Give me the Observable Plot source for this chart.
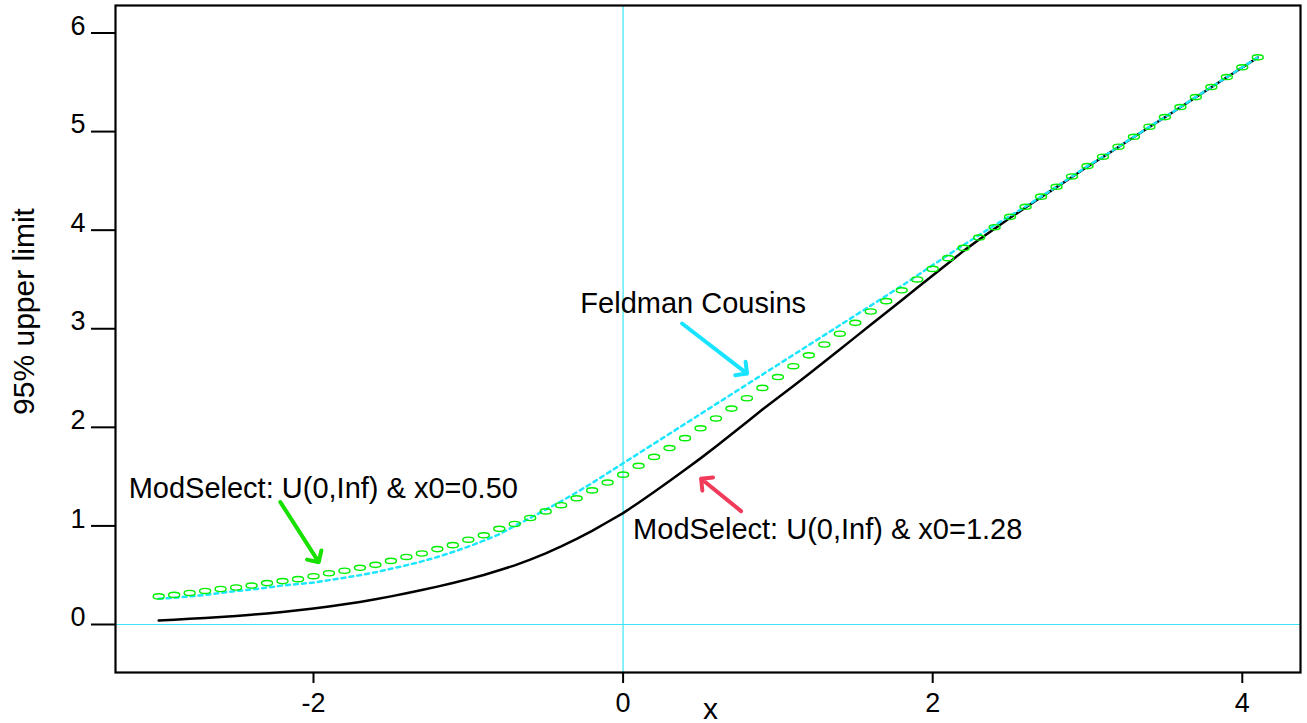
<!DOCTYPE html>
<html><head><meta charset="utf-8">
<script src="https://cdn.jsdelivr.net/npm/d3@7"></script>
<script src="https://cdn.jsdelivr.net/npm/@observablehq/plot@0.6"></script>
<style>body{margin:0;background:#fff} #chart svg{display:block}</style>
</head><body><div id="chart"></div>
<script>
// x grid of the computed curves
const xValues = [-3.0,-2.9,-2.8,-2.7,-2.6,-2.5,-2.4,-2.3,-2.2,-2.1,-2.0,-1.9,-1.8,-1.7,-1.6,-1.5,-1.4,-1.3,-1.2,-1.1,-1.0,-0.9,-0.8,-0.7,-0.6,-0.5,-0.4,-0.3,-0.2,-0.1,0.0,0.1,0.2,0.3,0.4,0.5,0.6,0.7,0.8,0.9,1.0,1.1,1.2,1.3,1.4,1.5,1.6,1.7,1.8,1.9,2.0,2.1,2.2,2.3,2.4,2.5,2.6,2.7,2.8,2.9,3.0,3.1,3.2,3.3,3.4,3.5,3.6,3.7,3.8,3.9,4.0,4.1];
// ModSelect: U(0,Inf) & x0=0.50 (green ellipses)
const modSelect050 = [0.285,0.30,0.32,0.34,0.36,0.375,0.395,0.42,0.44,0.46,0.49,0.52,0.545,0.575,0.605,0.645,0.685,0.72,0.765,0.805,0.86,0.905,0.97,1.02,1.08,1.147,1.21,1.28,1.36,1.44,1.52,1.61,1.70,1.79,1.89,1.99,2.09,2.19,2.295,2.40,2.51,2.62,2.73,2.84,2.95,3.06,3.175,3.28,3.39,3.50,3.607,3.716,3.82,3.925,4.03,4.135,4.237,4.34,4.44,4.545,4.65,4.745,4.846,4.947,5.049,5.147,5.249,5.35,5.452,5.553,5.652,5.753];
// Feldman Cousins (cyan dashed)
const feldmanCousins = [0.26,0.27,0.285,0.30,0.32,0.34,0.355,0.375,0.395,0.41,0.425,0.45,0.475,0.50,0.53,0.565,0.60,0.64,0.685,0.735,0.79,0.85,0.915,1.00,1.08,1.165,1.25,1.34,1.435,1.535,1.635,1.735,1.835,1.935,2.035,2.135,2.235,2.335,2.435,2.535,2.635,2.735,2.835,2.935,3.035,3.135,3.235,3.335,3.435,3.54,3.645,3.75,3.85,3.95,4.05,4.145,4.24,4.34,4.44,4.545,4.65,4.745,4.846,4.947,5.049,5.147,5.249,5.35,5.452,5.553,5.652,5.753];
// ModSelect: U(0,Inf) & x0=1.28 (black solid)
const modSelect128 = [0.04,0.048,0.057,0.066,0.076,0.087,0.099,0.112,0.127,0.144,0.163,0.183,0.205,0.229,0.256,0.285,0.316,0.349,0.384,0.421,0.46,0.502,0.55,0.60,0.658,0.722,0.792,0.868,0.95,1.04,1.13,1.235,1.345,1.455,1.57,1.685,1.805,1.93,2.055,2.18,2.30,2.42,2.54,2.665,2.79,2.915,3.04,3.165,3.29,3.415,3.54,3.665,3.79,3.905,4.015,4.125,4.23,4.335,4.437,4.54,4.645,4.742,4.843,4.945,5.046,5.145,5.247,5.348,5.45,5.551,5.65,5.752];
const xTicks = [-2, 0, 2, 4];
const yTicks = [0, 1, 2, 3, 4, 5, 6];
const xLabel = ["x"];
const yLabel = ["95% upper limit"];
const annotationTexts = ["Feldman Cousins", "ModSelect: U(0,Inf) & x0=0.50", "ModSelect: U(0,Inf) & x0=1.28"];

// annotation placement (data coordinates)
const annotationX = [-0.276, -3.194, 0.0646];
const annotationY = [3.157, 1.286, 0.863];
const arrowStart = [[0.381, 3.053], [-2.214, 1.242], [0.762, 1.150]];
const arrowEnd = [[0.801, 2.545], [-1.966, 0.632], [0.504, 1.479]];
const arrowColors = ["#19e3ff", "#18e000", "#f03c5a"];

const rows = xValues.map((x, i) => ({x, green: modSelect050[i], cyan: feldmanCousins[i], black: modSelect128[i]}));
const annotations = annotationTexts.map((t, i) => ({t, x: annotationX[i], y: annotationY[i]}));
const arrows = arrowStart.map((s, i) => ({x1: s[0], y1: s[1], x2: arrowEnd[i][0], y2: arrowEnd[i][1], c: arrowColors[i]}));

const ellipse = {
  draw(ctx) {
    const rx = 5.5, ry = 2.6, k = 0.5523;
    ctx.moveTo(rx, 0);
    ctx.bezierCurveTo(rx, ry * k, rx * k, ry, 0, ry);
    ctx.bezierCurveTo(-rx * k, ry, -rx, ry * k, -rx, 0);
    ctx.bezierCurveTo(-rx, -ry * k, -rx * k, -ry, 0, -ry);
    ctx.bezierCurveTo(rx * k, -ry, rx, -ry * k, rx, 0);
    ctx.closePath();
  }
};

const chart = Plot.plot({
  width: 1307,
  height: 723,
  marginLeft: 115,
  marginRight: 7,
  marginTop: 5,
  marginBottom: 51,
  style: {fontFamily: "'Liberation Sans', Arial, sans-serif", background: "#fff", color: "#000", overflow: "visible"},
  x: {domain: [-3.279, 4.376]},
  y: {domain: [-0.487, 6.279]},
  marks: [
    Plot.ruleX([0], {stroke: "#3ae6f5", strokeWidth: 1.2}),
    Plot.ruleY([0], {stroke: "#3ae6f5", strokeWidth: 1.2}),
    Plot.line(rows, {x: "x", y: "black", stroke: "#000", strokeWidth: 2.5}),
    Plot.line(rows, {x: "x", y: "cyan", stroke: "#1ee6ff", strokeWidth: 2.5, strokeDasharray: "4,4"}),
    Plot.dot(rows, {x: "x", y: "green", symbol: ellipse, stroke: "#00ee00", strokeWidth: 1.4, fill: "none"}),
    Plot.arrow(arrows, {x1: "x1", y1: "y1", x2: "x2", y2: "y2", stroke: d => d.c, strokeWidth: 4, headLength: 4.5, headAngle: 90}),
    Plot.text(annotations, {x: "x", y: "y", text: "t", textAnchor: "start", lineAnchor: "bottom", fontSize: 29, fill: "#000"}),
    Plot.frame({stroke: "#000", strokeWidth: 2.2}),
    Plot.axisX(xTicks, {tickSize: 11, tickPadding: 9, fontSize: 27, strokeWidth: 2, tickFormat: d => String(d), label: null}),
    Plot.axisY(yTicks, {tickSize: 24, strokeWidth: 2, tickFormat: () => "", label: null}),
    Plot.axisY(yTicks, {tickSize: 0, tickPadding: 30, fontSize: 27, dy: -7, tickFormat: d => String(d), label: null}),
    Plot.text(xLabel, {frameAnchor: "bottom", text: d => d, lineAnchor: "bottom", dy: 46, dx: 2.5, fontSize: 30, fill: "#000"}),
    Plot.text(yLabel, {frameAnchor: "left", text: d => d, rotate: -90, textAnchor: "middle", lineAnchor: "bottom", dx: -82, dy: -27.5, fontSize: 30, fill: "#000"})
  ]
});
document.getElementById("chart").appendChild(chart);
</script>
</body></html>
